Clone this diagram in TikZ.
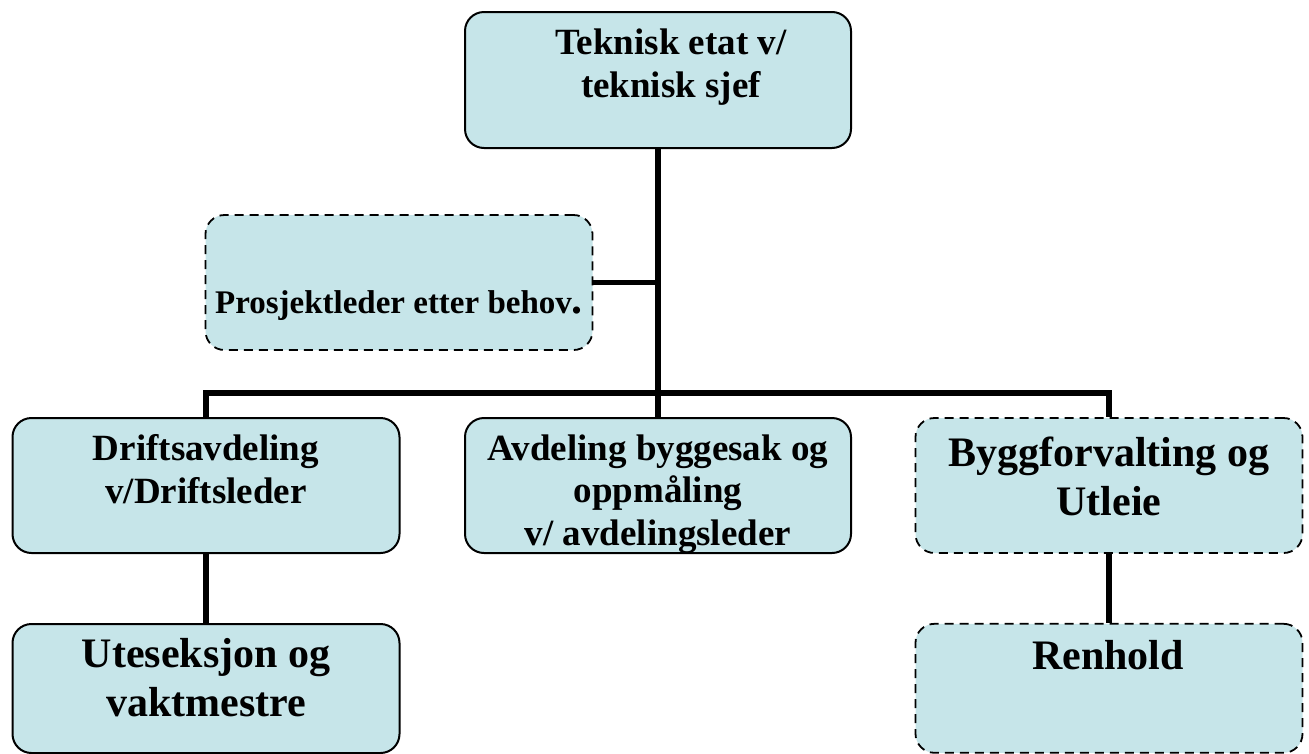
\documentclass[tikz,border=0pt]{standalone}
\usepackage{fontspec}
\setmainfont{Liberation Serif}
\usetikzlibrary{positioning}
\definecolor{boxfill}{RGB}{198,229,233}
\tikzset{x=1pt,y=-1pt,
  unit/.style={draw=black,line width=2pt,fill=boxfill,rounded corners=19pt,
    minimum width=387pt,minimum height=135pt,inner sep=0pt},
  unitdash/.style={unit,line width=1.8pt,dash pattern=on 9pt off 6pt},
  lbl/.style={align=center,inner sep=0pt,anchor=base,
    font=\bfseries\fontsize{37}{42.5}\selectfont},
  biglbl/.style={lbl,font=\bfseries\fontsize{42}{49}\selectfont},
  link/.style={line width=5.5pt,line join=miter}}

\begin{document}
\begin{tikzpicture}
        \useasboundingbox (0,0) rectangle (1309,753);
        \node[unit,minimum width=386pt,minimum height=136pt] (chief) at (658,80) {};
        \node[unitdash] (project) at (399,282.5) {};
        \node[unit] (drift) at (206,485.5) {};
        \node[unit,minimum width=386pt] (byggesak) at (658,485.5) {};
        \node[unitdash] (bygg) at (1109,485.5) {};
        \node[unit,minimum height=129pt,below=69pt of drift] (ute) {};
        \node[unitdash,minimum height=129pt,below=69pt of bygg] (renhold) {};
        \coordinate (bar) at (658,393);
        \draw[link] (chief.south) -- (chief.south |- bar);
        \draw[link] (project.east) -- (project.east -| chief.south);
        \draw[link] (drift.north) -- (drift.north |- bar) -| (bygg.north);
        \draw[link] (byggesak.north) -- (byggesak.north |- bar);
        \draw[link] (drift.south) -- (ute.north);
        \draw[link] (bygg.south) -- (renhold.north);
        % base anchor sits on the last line
        \node[lbl] (chief-t) at (671,97) {Teknisk etat v/\\teknisk sjef};
        \node[lbl,font=\bfseries\fontsize{33}{38}\selectfont] (project-t) at (399,313)
            {Prosjektleder etter behov{\fontsize{44}{44}\selectfont.}};
        \node[lbl] (drift-t) at (206,503) {Driftsavdeling\\v/Driftsleder};
        \begin{scope}
            \clip ([yshift=3pt]byggesak.south west) rectangle (byggesak.north east);
            \node[lbl] (byggesak-t) at (658,545) {Avdeling byggesak og\\oppmåling\\v/ avdelingsleder};
        \end{scope}
        \node[biglbl] (bygg-t) at (1109,515) {Byggforvalting og\\Utleie};
        \node[biglbl] (ute-t) at (206,716) {Uteseksjon og\\vaktmestre};
        \node[biglbl] (renhold-t) at (1108,669) {Renhold};
\end{tikzpicture}
\end{document}
